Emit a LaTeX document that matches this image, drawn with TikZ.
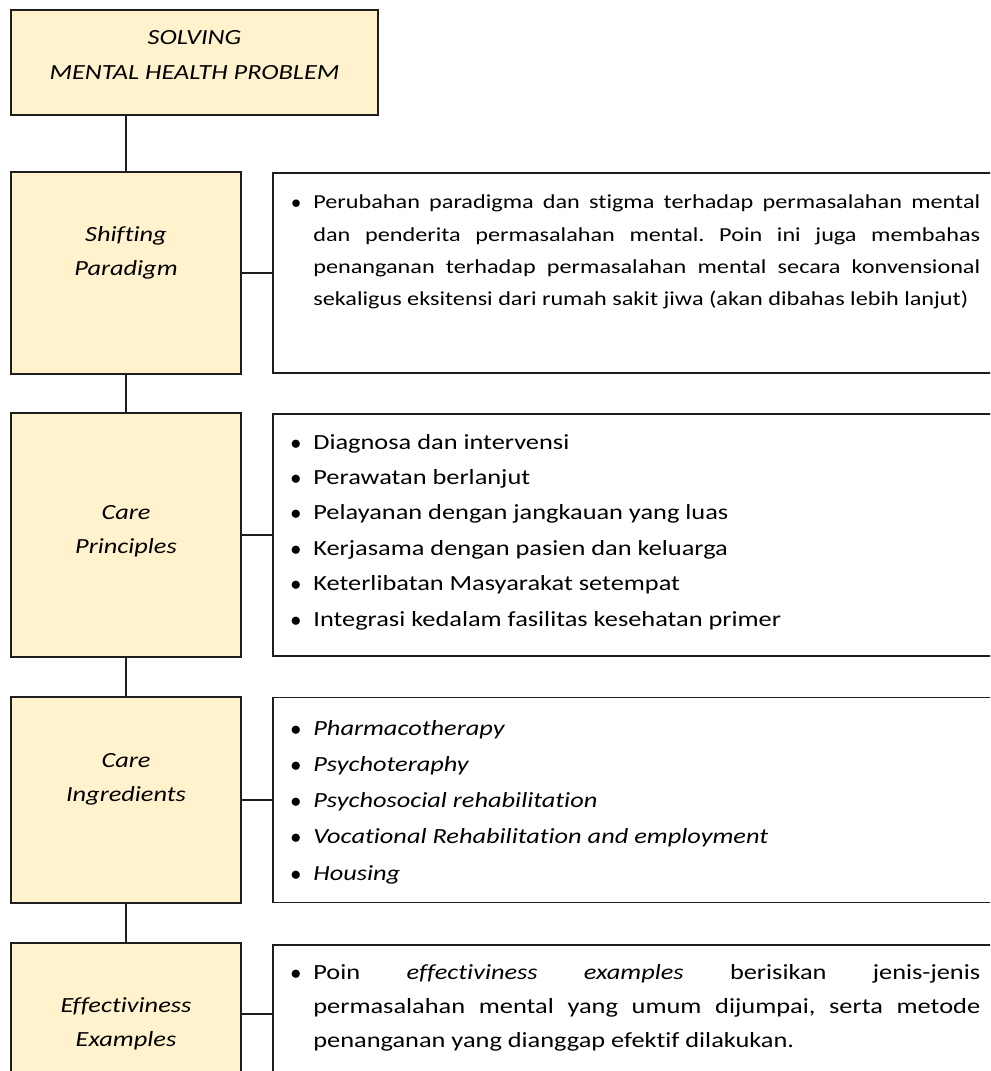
\documentclass[tikz,border=0pt]{standalone}
\usepackage{fontspec}
\setmainfont{Carlito}[FakeStretch=1.22, Ligatures=NoCommon]
\usepackage{tikz}
\usetikzlibrary{calc}
\definecolor{boxyellow}{HTML}{FFF2CC}
\definecolor{boxline}{HTML}{1E1E1E}
\newcommand{\bul}{\llap{$\bullet$\hspace{7pt}}}
\setlength{\parindent}{0pt}
\frenchspacing

\begin{document}
\begin{tikzpicture}[x=0.02cm, y=-0.02cm,
  yellowbox/.style={draw=boxline, line width=1pt, fill=boxyellow, inner sep=0pt, minimum width=4.6cm},
  notebox/.style={draw=boxline, line width=1pt, fill=white, inner sep=0pt, minimum width=14.6cm},
  headtxt/.style={font=\itshape\fontsize{12.3}{19.5}\selectfont, align=center, inner sep=0pt},
  itemtxt/.style={font=\fontsize{12.3}{20.7}\selectfont, anchor=base west, inner sep=0pt},
  paratxt/.style={itemtxt, font=\fontsize{11.3}{13}\selectfont},
  link/.style={draw=boxline, line width=0.75pt}]
\useasboundingbox (0,0) rectangle (990,1071);
\clip (0,0) rectangle (990,1071);

\node[yellowbox, minimum width=7.34cm, minimum height=2.1cm] (title) at (194.5,62.5) {};
\node[headtxt, font=\itshape\fontsize{12.3}{19.8}\selectfont] (title-txt) at (194.5,55) {SOLVING\\MENTAL HEALTH PROBLEM};

\node[yellowbox, minimum height=4.04cm] (shift) at (126,273) {};
\node[yellowbox, minimum height=4.88cm] (princ) at (126,535) {};
\node[yellowbox, minimum height=4.12cm] (ingr) at (126,800) {};
\node[yellowbox, minimum height=2.84cm] (effect) at (126,1014) {};

\node[notebox, minimum height=4.0cm] (shiftnote) at (638,273) {};
\node[notebox, minimum height=4.84cm] (princnote) at (638,535) {};
\node[notebox, minimum height=4.1cm] (ingrnote) at (638,800) {};
\node[notebox, minimum height=2.76cm] (effectnote) at (638,1014) {};

\node[headtxt] (shift-lbl) at (126,253) {Shifting\\Paradigm};
\node[headtxt] (princ-lbl) at (126,531) {Care\\Principles};
\node[headtxt] (ingr-lbl) at (126,779) {Care\\Ingredients};
\node[headtxt] (effect-lbl) at (126,1024) {Effectiviness\\Examples};

\draw[link] (shift.north) -- (shift.north |- title.south);
\draw[link] (shift.south) -- (princ.north);
\draw[link] (princ.south) -- (ingr.north);
\draw[link] (ingr.south) -- (effect.north);
\draw[link] (shift.east) -- (shiftnote.west);
\draw[link] (princ.east) -- (princnote.west);
\draw[link] (ingr.east) -- (ingrnote.west);
\draw[link] (effect.east) -- (effectnote.west);

\node[paratxt] (shift-1) at (313,209) {\bul\makebox[13.34cm][s]{Perubahan paradigma dan stigma terhadap permasalahan mental}};
\node[paratxt] (shift-2) at (313,241) {\makebox[13.34cm][s]{dan penderita permasalahan mental. Poin ini juga membahas}};
\node[paratxt] (shift-3) at (313,273) {\makebox[13.34cm][s]{penanganan terhadap permasalahan mental secara konvensional}};
\node[paratxt] (shift-4) at (313,305) {sekaligus eksitensi dari rumah sakit jiwa (akan dibahas lebih lanjut)};

\foreach \txt [count=\i] in {Diagnosa dan intervensi, Perawatan berlanjut, Pelayanan dengan jangkauan yang luas, Kerjasama dengan pasien dan keluarga, Keterlibatan Masyarakat setempat, Integrasi kedalam fasilitas kesehatan primer}
  \node[itemtxt] (princ-\i) at (313,{449+35.4*(\i-1)}) {\bul\txt};

\foreach \txt [count=\i] in {Pharmacotherapy, Psychoteraphy, Psychosocial rehabilitation, Vocational Rehabilitation and employment, Housing}
  \node[itemtxt, font=\itshape\fontsize{12.3}{20.7}\selectfont] (ingr-\i) at (313,{735+36.3*(\i-1)}) {\bul\txt};

\node[itemtxt] (effect-1) at (313,979) {\bul\makebox[13.34cm][s]{Poin \textit{effectiviness} \textit{examples} berisikan jenis-jenis}};
\node[itemtxt] (effect-2) at (313,1013) {\makebox[13.34cm][s]{permasalahan mental yang umum dijumpai, serta metode}};
\node[itemtxt] (effect-3) at (313,1047) {penanganan yang dianggap efektif dilakukan.};
\end{tikzpicture}
\end{document}
